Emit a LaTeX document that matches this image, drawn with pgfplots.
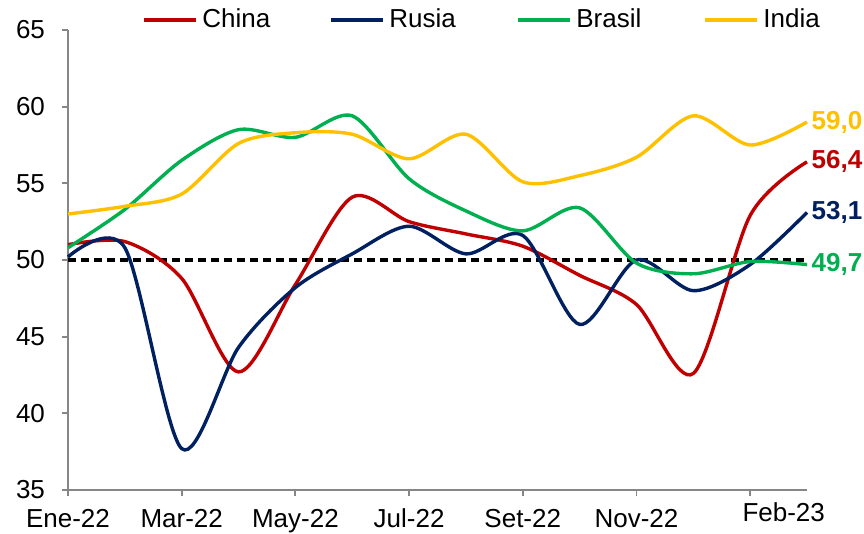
\documentclass[border=0pt]{standalone}
\usepackage{fontspec}
\setmainfont{Liberation Sans}
\usepackage{pgfplots}
\pgfplotsset{compat=1.18}
\usetikzlibrary{calc}

\definecolor{cnred}{HTML}{C00000}
\definecolor{runavy}{HTML}{002060}
\definecolor{brgreen}{HTML}{00B050}
\definecolor{inyellow}{HTML}{FFC000}
\definecolor{axgray}{HTML}{868686}

\begin{document}
\begin{tikzpicture}
\begin{axis}[
    scale only axis,
    width=369.5pt, height=230pt,
    xmin=0, xmax=13, ymin=35, ymax=65,
    ytick={35,40,...,65},
    xtick={0,2,...,12},
    xticklabels={Ene-22,Mar-22,May-22,Jul-22,Set-22,Nov-22,{}},
    extra x ticks={12.59},
    extra x tick labels={Feb-23},
    extra x tick style={major tick length=0pt},
    axis x line*=bottom, axis y line*=left,
    axis line style={axgray, line width=0.9pt},
    tick style={axgray, line width=0.9pt},
    tick align=outside,
    major tick length=3pt,
    /pgf/number format/assume math mode=true,
    tick label style={font=\fontsize{13}{15}\selectfont, text=black},
    yticklabel style={xshift=-5pt},
    xticklabel style={yshift=-3pt},
    legend style={at={(rel axis cs:0,1)}, anchor=west, xshift=37pt, yshift=5pt,
        draw=none, fill=none, inner sep=0pt, legend columns=4,
        font=\fontsize{13}{15}\selectfont},
    legend image code/.code={\draw[#1, line width=2pt] (0pt,0pt) -- (26pt,0pt);},
    clip=false,
]
\addplot[black, line width=1.7pt, dash pattern=on 4pt off 2.5pt, forget plot]
    coordinates {(0,50) (13,50)};

\addplot[cnred, line width=1.7pt, smooth] coordinates {
(0,51.0) (1,51.2) (2,48.8) (3,42.7) (4,48.4) (5,54.1) (6,52.5)
(7,51.7) (8,50.9) (9,49.0) (10,47.1) (11,42.6) (12,52.9) (13,56.4)}
 node[pos=1, anchor=west, inner sep=1.5pt, text=cnred, font=\bfseries\fontsize{13}{15}\selectfont] {56,4};
\addlegendentry{\makebox[61.5pt][l]{China}}

\addplot[runavy, line width=1.7pt, smooth] coordinates {
(0,50.2) (1,50.8) (2,37.7) (3,44.3) (4,48.2) (5,50.4) (6,52.2)
(7,50.4) (8,51.6) (9,45.8) (10,50.0) (11,48.0) (12,49.7) (13,53.1)}
 node[pos=1, anchor=west, inner sep=1.5pt, text=runavy, font=\bfseries\fontsize{13}{15}\selectfont] {53,1};
\addlegendentry{\makebox[61.5pt][l]{Rusia}}

\addplot[brgreen, line width=1.7pt, smooth] coordinates {
(0,50.8) (1,53.3) (2,56.5) (3,58.5) (4,58.0) (5,59.4) (6,55.3)
(7,53.2) (8,51.9) (9,53.4) (10,49.8) (11,49.1) (12,49.9) (13,49.7)}
 node[pos=1, anchor=west, inner sep=1.5pt, text=brgreen, font=\bfseries\fontsize{13}{15}\selectfont] {49,7};
\addlegendentry{\makebox[61.5pt][l]{Brasil}}

\addplot[inyellow, line width=1.7pt, smooth] coordinates {
(0,53.0) (1,53.5) (2,54.3) (3,57.6) (4,58.3) (5,58.2) (6,56.6)
(7,58.2) (8,55.1) (9,55.5) (10,56.7) (11,59.4) (12,57.5) (13,59.0)}
 node[pos=1, anchor=west, inner sep=1.5pt, text=inyellow, font=\bfseries\fontsize{13}{15}\selectfont] {59,0};
\addlegendentry{\makebox[61.5pt][l]{India}}

\coordinate (bl) at (rel axis cs:0,0);
\coordinate (tr) at (rel axis cs:1,1);
\end{axis}
\pgfresetboundingbox
\path[use as bounding box] ($(bl)+(-34pt,-22pt)$) rectangle ($(tr)+(28.5pt,15pt)$);
\end{tikzpicture}
\end{document}
